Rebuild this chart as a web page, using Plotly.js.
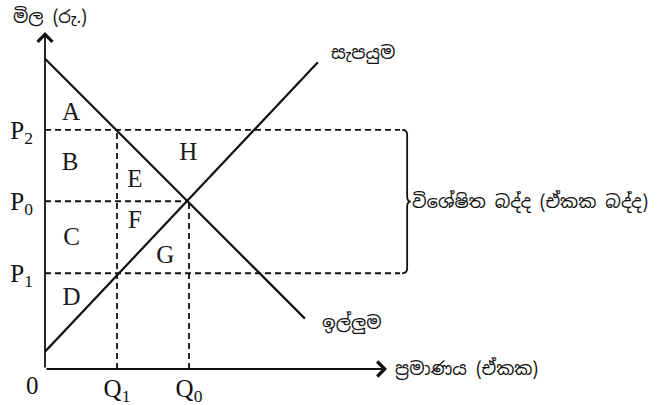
<!DOCTYPE html>
<html>
<head>
<meta charset="utf-8">
<script src="https://cdn.plot.ly/plotly-3.0.1.min.js"></script>
<style>
  body { margin: 0; background: #fff; }
  #chart { width: 657px; height: 405px; }
</style>
</head>
<body>
<div id="chart"></div>
<script>
// --- data (chart units) ---
const quantities = [10, 20];               // Q1, Q0
const qLabels    = ["Q<sub>1</sub>", "Q<sub>0</sub>"];
const prices     = [13.3, 23.3, 33.2];     // P1, P0, P2
const pLabels    = ["P<sub>1</sub>", "P<sub>0</sub>", "P<sub>2</sub>"];
const demandX    = [0, 36.1];
const demandY    = [43.1, 7.0];
const supplyX    = [0, 37.9];
const supplyY    = [2.4, 42.6];
const areaNames  = ["A", "B", "C", "D", "E", "F", "G", "H"];
const areaX      = [3.6, 3.5, 3.7, 3.7, 12.5, 12.5, 16.7, 19.9];
const areaY      = [35.5, 28.5, 18.1, 9.8, 26.1, 20.5, 15.6, 29.9];

const Q1 = quantities[0], Q0 = quantities[1];
const P1 = prices[0], P0 = prices[1], P2 = prices[2];
const dashEnd = 49.3;      // where the tax dashed lines stop
const braceX  = 50.3;

const serif = "Liberation Serif, Times New Roman, serif";
const sinhala = "Noto Sans Sinhala, Noto Sans, sans-serif";

function dashed(x, y) {
    return { x: x, y: y, mode: "lines", hoverinfo: "skip",
             line: { color: "#111", width: 1.8, dash: "6px,4px" } };
}

const traces = [
    // tax band and equilibrium guides
    dashed([0, dashEnd], [P2, P2]),
    dashed([0, dashEnd], [P1, P1]),
    dashed([0, Q0], [P0, P0]),
    dashed([Q1, Q1], [0, P2]),
    dashed([Q0, Q0], [0, P0]),
    // demand
    { x: demandX, y: demandY, mode: "lines", hoverinfo: "skip",
      line: { color: "#111", width: 2.2 } },
    // supply
    { x: supplyX, y: supplyY, mode: "lines", hoverinfo: "skip",
      line: { color: "#111", width: 2.2 } },
    // area letters
    { x: areaX, y: areaY, mode: "text", text: areaNames, hoverinfo: "skip",
      cliponaxis: false,
      textfont: { family: serif, size: 25, color: "#1a1a1a" } }
];

// curly brace next to the tax band
const mid = (P1 + P2) / 2;
const bw = 0.7, tip = 0.5, r = 0.7;
const bracePath =
    `M ${braceX - bw},${P2} Q ${braceX},${P2} ${braceX},${P2 - r} ` +
    `L ${braceX},${mid + r} Q ${braceX},${mid} ${braceX + tip},${mid} ` +
    `Q ${braceX},${mid} ${braceX},${mid - r} ` +
    `L ${braceX},${P1 + r} Q ${braceX},${P1} ${braceX - bw},${P1}`;

const annotations = [
    // axes with open arrow heads
    { x: 0, y: 46.8, ax: 0, ay: 0, xref: "x", yref: "y", axref: "x", ayref: "y",
      showarrow: true, arrowhead: 4, arrowsize: 1.6, arrowwidth: 1.8, arrowcolor: "#111", text: "" },
    { x: 47.5, y: 0, ax: 0, ay: 0, xref: "x", yref: "y", axref: "x", ayref: "y",
      showarrow: true, arrowhead: 4, arrowsize: 1.6, arrowwidth: 1.8, arrowcolor: "#111", text: "" },
    // origin (outside the axis range, so placed in paper units)
    { x: -0.021, y: -0.046, xref: "paper", yref: "paper", xanchor: "center", yanchor: "middle",
      text: "0", showarrow: false,
      font: { family: serif, size: 25, color: "#111" } },
    // axis titles and curve names
    { x: 0.7, y: 48.9, text: "මිල (රු.)", showarrow: false,
      font: { family: sinhala, size: 18, color: "#111" } },
    { x: 48.3, y: 0.1, text: "ප්‍රමාණය (ඒකක)", showarrow: false, xanchor: "left",
      font: { family: sinhala, size: 18, color: "#111" } },
    { x: 44.2, y: 44.0, text: "සැපයුම", showarrow: false,
      font: { family: sinhala, size: 18, color: "#111" } },
    { x: 42.6, y: 6.5, text: "ඉල්ලුම", showarrow: false,
      font: { family: sinhala, size: 18, color: "#111" } },
    { x: 50.7, y: mid, text: "විශේෂිත බද්ද (ඒකක බද්ද)", showarrow: false, xanchor: "left",
      font: { family: sinhala, size: 18, color: "#111" } }
];

const layout = {
    width: 657, height: 405,
    margin: { l: 45, r: 0, t: 0, b: 36 },
    paper_bgcolor: "#fff", plot_bgcolor: "#fff",
    showlegend: false,
    xaxis: {
        range: [0, 85], showgrid: false, zeroline: false, showline: false,
        tickmode: "array", tickvals: quantities, ticktext: qLabels, ticks: "",
        ticklabelstandoff: 2,
        tickfont: { family: serif, size: 25, color: "#111" }
    },
    yaxis: {
        range: [0, 51.25], showgrid: false, zeroline: false, showline: false,
        tickmode: "array", tickvals: prices, ticktext: pLabels, ticks: "",
        ticklabelstandoff: 11,
        tickfont: { family: serif, size: 25, color: "#111" }
    },
    shapes: [
        { type: "path", path: bracePath, xref: "x", yref: "y",
          line: { color: "#111", width: 1.8 } }
    ],
    annotations: annotations
};

Plotly.newPlot("chart", traces, layout, { displayModeBar: false, staticPlot: true });
</script>
</body>
</html>
